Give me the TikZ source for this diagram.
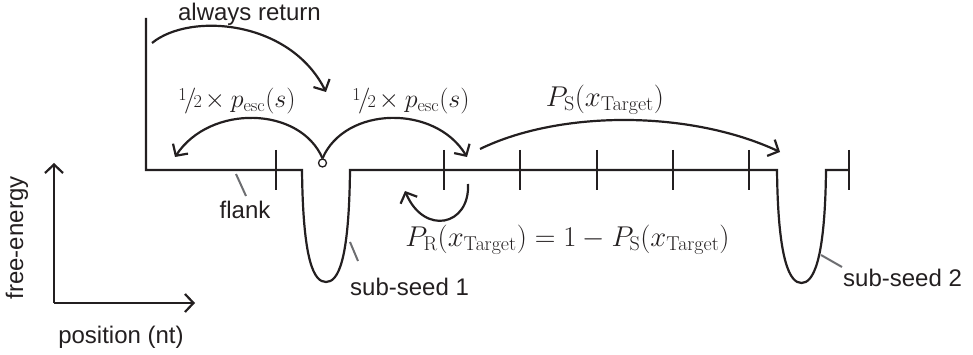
\RequirePackage{fix-cm}
\documentclass[tikz,border=0pt]{standalone}
\usepackage{graphicx}
\usepackage[no-math]{fontspec}
\newfontfamily\labelfont{Liberation Sans}
\usetikzlibrary{arrows.meta}
\definecolor{inkc}{HTML}{231F20}
\definecolor{leaderc}{HTML}{6D6E71}
\newcommand{\halfof}{\raisebox{0.6ex}{$\scriptstyle 1$}\mkern-2mu/\mkern-2mu{\scriptstyle 2}}
\newcommand{\mathlab}[1]{\scalebox{1.06}{$#1$}}
\newcommand{\esclab}{\scalebox{0.96}{$\halfof\mkern-2mu\times p_{\mathrm{esc}}(s)$}}
\begin{document}
\begin{tikzpicture}[x=1pt,y=-1pt,
  ink/.style={draw=inkc, line width=2.2pt, line join=miter},
  arr/.style={ink, -{Straight Barb[length=8.5pt,width=18pt]}},
  leader/.style={draw=leaderc, line width=2pt},
  lbl/.style={text=inkc, font=\labelfont\fontsize{24}{28}\selectfont, inner sep=0pt},
  mlbl/.style={text=inkc, font=\fontsize{27}{32}\selectfont, inner sep=0pt},
  tick/.style={ink}
]
\useasboundingbox (0,0) rectangle (973,355);

% energy landscape
\coordinate (wallTop) at (146,18);
\coordinate (w1L) at (302,170);
\coordinate (w1R) at (350,170);
\coordinate (w2L) at (777,170);
\coordinate (w2R) at (826,170);
\coordinate (endR) at (849,170);
\draw[ink] (wallTop) -- (146,170) -- (w1L)
  .. controls (303,262) and (314,282) .. (326,282)
  .. controls (338,282) and (349,262) .. (w1R)
  -- (w2L)
  .. controls (778,262) and (790,283) .. (801.5,283)
  .. controls (813,283) and (825,262) .. (w2R)
  -- (endR);

% ticks
\foreach \x in {276,444,520,597,673,749,849}
  \draw[tick] (\x,150) -- (\x,190);

% start point
\node[circle, draw=inkc, fill=white, inner sep=0pt, minimum size=8pt, line width=1.3pt] (start) at (322.5,163) {};

% always return
\coordinate (ar1) at (152,43);
\coordinate (ar2) at (326,92);
\draw[arr] (ar1) .. controls (190,12) and (290,20) .. (ar2);
\node[lbl] (always) at (249.5,14) {always return};

% escape arrows
\coordinate (escL) at (175,157);
\coordinate (escR) at (467,157);
\draw[arr] (start.north) .. controls (300,106) and (210,104) .. (escL);
\draw[arr] (start.north) .. controls (345,106) and (435,104) .. (escR);
\node[mlbl] (pescL) at (237,101) {\esclab};
\node[mlbl] (pescR) at (411,101) {\esclab};

% slide arrow
\coordinate (ps1) at (480,149);
\coordinate (ps2) at (780,152);
\draw[arr] (ps1) .. controls (560,110) and (690,110) .. (ps2);
\node[mlbl] (pslabel) at (605,100) {\mathlab{P_{\mathrm{S}}(x_{\mathrm{Target}})}};

% return loop
\coordinate (pr1) at (468,184);
\coordinate (pr2) at (405,191);
\draw[arr] (pr1) .. controls (470,226) and (424,236) .. (pr2);
\node[mlbl] (prlabel) at (567.5,240) {\mathlab{P_{\mathrm{R}}(x_{\mathrm{Target}}) = 1 - P_{\mathrm{S}}(x_{\mathrm{Target}})}};

% annotations
\coordinate (flA) at (236,174);
\coordinate (flB) at (246,196);
\draw[leader] (flA) -- (flB);
\node[lbl] (flank) at (245,210) {flank};

\coordinate (s1A) at (350,242);
\coordinate (s1B) at (358,261);
\draw[leader] (s1A) -- (s1B);
\node[lbl, anchor=west] (sub1) at (350,287) {sub-seed 1};

\coordinate (s2A) at (821,255);
\coordinate (s2B) at (842,267);
\draw[leader] (s2A) -- (s2B);
\node[lbl, anchor=west] (sub2) at (843,278) {sub-seed 2};

% axes
\coordinate (origin) at (54,303);
\coordinate (yTop) at (54,163);
\coordinate (xEnd) at (195,303);
\draw[arr] (origin) -- (yTop);
\draw[arr] (origin) -- (xEnd);
\node[lbl, rotate=90] (fe) at (17,238) {free-energy};
\node[lbl] (pos) at (121,337) {position (nt)};
\end{tikzpicture}
\end{document}
